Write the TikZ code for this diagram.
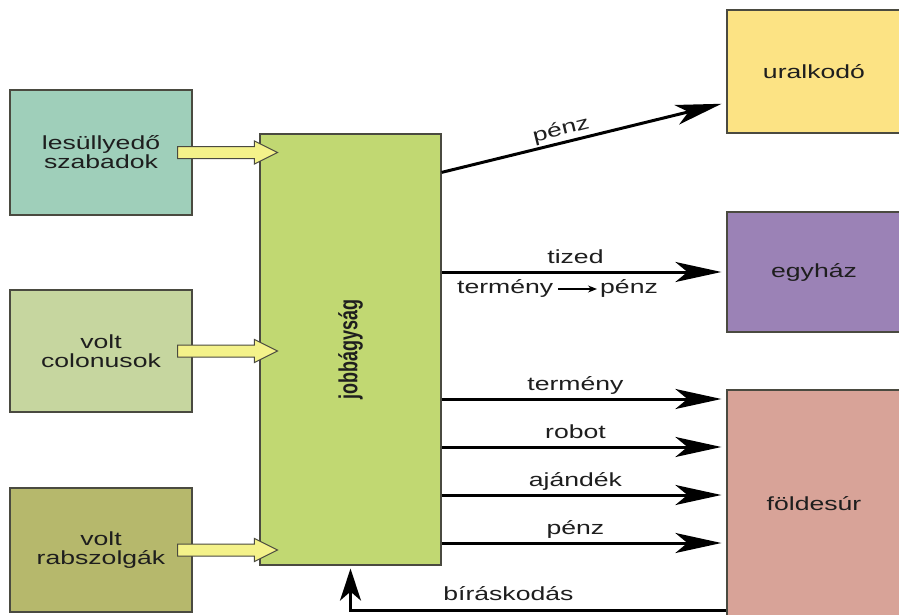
\documentclass[tikz,border=0pt]{standalone}
\usepackage{fontspec}
\setmainfont{Liberation Sans}[FakeStretch=1.4]
\newfontfamily\plainfont{Liberation Sans}
\usetikzlibrary{arrows.meta,calc}
\definecolor{cA}{HTML}{9FCFBA}
\definecolor{cB}{HTML}{C6D69F}
\definecolor{cC}{HTML}{B6B86C}
\definecolor{cJ}{HTML}{C1D872}
\definecolor{cU}{HTML}{FCE384}
\definecolor{cE}{HTML}{9B82B6}
\definecolor{cF}{HTML}{D8A398}
\definecolor{boxline}{HTML}{4A4A40}
\definecolor{txt}{HTML}{1E1E1E}
\definecolor{yel}{HTML}{F4F28A}
\newcommand\yellowarrow[1]{%
  \draw[yarrow] ($(#1.east)+(-15,-6)$) -- ($(jobb.west|-#1.east)+(-5,-6)$)
    -- ($(jobb.west|-#1.east)+(-5,-11.5)$) -- ($(jobb.west|-#1.east)+(18,0)$)
    -- ($(jobb.west|-#1.east)+(-5,11.5)$) -- ($(jobb.west|-#1.east)+(-5,6)$)
    -- ($(#1.east)+(-15,6)$) -- cycle;}
\begin{document}
\begin{tikzpicture}[x=1pt,y=-1pt,
  box/.style={draw=boxline, line width=1.2pt, rectangle, minimum width=182pt,
    minimum height=124pt, align=center, font=\fontsize{19}{19}\selectfont,
    text=txt, inner sep=0pt},
  lab/.style={font=\fontsize{19}{19}\selectfont, text=txt, inner sep=0pt, anchor=base},
  big/.style={line width=3pt, draw=black, shorten >=5pt,
    -{Stealth[length=46pt,width=20pt,inset=12pt]}},
  upar/.style={line width=3pt, draw=black, shorten >=3pt,
    -{Stealth[length=32pt,width=21pt,inset=9pt]}},
  yarrow/.style={fill=yel, draw=boxline, line width=1pt, line join=miter}]
\useasboundingbox (0,0) rectangle (899,615);
\fill[white] (0,0) rectangle (899,615);

\node[box, fill=cA, minimum height=125pt] (les) at (101,152.5) {lesüllyedő\\szabadok};
\node[box, fill=cB, minimum height=122pt] (col) at (101,351) {volt\\colonusok};
\node[box, fill=cC, minimum height=124pt] (rab) at (101,550) {volt\\rabszolgák};
\node[box, fill=cJ, minimum width=181pt, minimum height=431pt] (jobb) at (350.5,349.5) {};
\node[rotate=90, inner sep=0pt, text=txt, font=\plainfont\bfseries\fontsize{18}{18}\selectfont]
  (jl) at (jobb.center) {\scalebox{1}[1.45]{jobbágyság}};

\node[box, fill=cU, minimum width=174pt, minimum height=123pt] (ural) at (814,71.5) {uralkodó};
\node[box, fill=cE, minimum width=174pt, minimum height=120pt] (egy) at (814,272) {egyház};
\node[box, fill=cF, minimum width=174pt, minimum height=228pt] (fold) at (814,504) {földesúr};

\yellowarrow{les}
\yellowarrow{col}
\yellowarrow{rab}

\draw[big] ($(jobb.north east)+(0,39)$) -- node[lab, sloped, anchor=south, pos=.43, yshift=2pt] {pénz}
  ($(ural.south west)+(0,-31)$);
\draw[big] (jobb.east|-egy.west) -- node[lab, pos=.47, yshift=9pt] {tized} (egy.west);
\node[lab, anchor=base west] (tm) at (457,293) {termény};
\node[lab, anchor=base west] (pz) at (600,293) {pénz};
\draw[line width=1.4pt, -{Stealth[length=9pt,width=7pt]}]
  ($(tm.base east)+(5,-4)$) -- ($(pz.base west)+(-3,-4)$);

\draw[big] (jobb.east|-0,399) -- node[lab, pos=.47, yshift=9pt] {termény} (fold.west|-0,399);
\draw[big] (jobb.east|-0,447) -- node[lab, pos=.47, yshift=9pt] {robot} (fold.west|-0,447);
\draw[big] (jobb.east|-0,495) -- node[lab, pos=.47, yshift=9pt] {ajándék} (fold.west|-0,495);
\draw[big] (jobb.east|-0,543) -- node[lab, pos=.47, yshift=9pt] {pénz} (fold.west|-0,543);
\draw[upar] (fold.west|-0,610) -| node[lab, pos=.29, yshift=10pt] {bíráskodás} (jobb.south);
\end{tikzpicture}
\end{document}
